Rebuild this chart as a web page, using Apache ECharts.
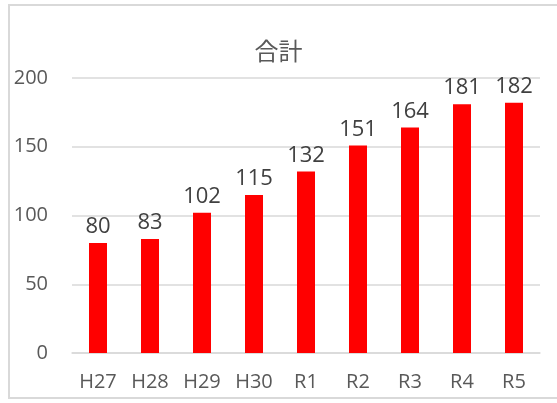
<!DOCTYPE html>
<html>
<head>
<meta charset="utf-8">
<script src="https://cdn.jsdelivr.net/npm/echarts@6/dist/echarts.min.js"></script>
<style>
  html, body { margin: 0; padding: 0; background: #fff; overflow: hidden; }
  #frame { position: absolute; left: 8px; top: 4px; width: 570px; height: 395px; border: 2px solid #d9d9d9; box-sizing: border-box; }
  #chart { position: absolute; left: 0; top: 0; width: 557px; height: 403px; }
</style>
</head>
<body>
<div id="frame"></div>
<div id="chart"></div>
<script>
const categories = ['H27', 'H28', 'H29', 'H30', 'R1', 'R2', 'R3', 'R4', 'R5']
const totals = [80, 83, 102, 115, 132, 151, 164, 181, 182]
const yTicks = { min: 0, max: 200, interval: 50 }

const chart = echarts.init(document.getElementById('chart'))
chart.setOption({
  animation: false,
  title: {
    text: '合計',
    left: 'center',
    top: 34,
    textStyle: {
      color: '#595959',
      fontWeight: 'normal',
      fontFamily: 'Noto Sans CJK JP',
      fontSize: 24
    }
  },
  grid: {
    left: 72,
    right: 17,
    top: 78,
    bottom: 50
  },
  xAxis: {
    type: 'category',
    data: categories,
    axisTick: { show: false },
    axisLine: { lineStyle: { color: '#d9d9d9', width: 1.5 } },
    axisLabel: {
      color: '#595959',
      fontSize: 20,
      fontFamily: 'Open Sans',
      margin: 19
    }
  },
  yAxis: {
    type: 'value',
    min: yTicks.min,
    max: yTicks.max,
    interval: yTicks.interval,
    axisLine: { show: false },
    axisTick: { show: false },
    splitLine: { lineStyle: { color: '#d9d9d9', width: 1.5 } },
    axisLabel: {
      color: '#595959',
      fontSize: 20,
      fontFamily: 'Open Sans',
      margin: 24
    }
  },
  series: [{
    name: '合計',
    type: 'bar',
    data: totals,
    barWidth: 18,
    itemStyle: { color: '#ff0000' },
    label: {
      show: true,
      position: 'top',
      distance: 5,
      color: '#404040',
      fontSize: 22,
      fontFamily: 'Open Sans'
    }
  }]
})
</script>
</body>
</html>
